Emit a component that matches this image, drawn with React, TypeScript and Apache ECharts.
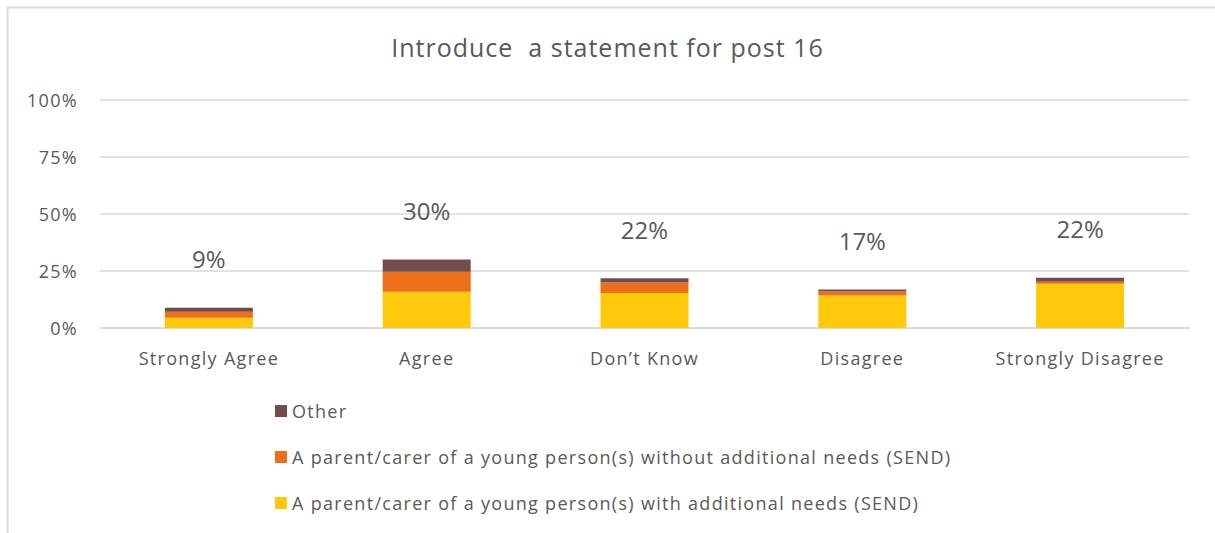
import React, { useEffect, useRef } from "react";
import * as echarts from "echarts";

const categories = ["Strongly Agree", "Agree", "Don\u2019t Know", "Disagree", "Strongly Disagree"];
const withNeeds = [4.5, 15.9, 15.4, 14.2, 19.4];
const withoutNeeds = [2.6, 8.8, 4.6, 1.8, 0.9];
const other = [1.8, 5.3, 1.8, 0.9, 1.7];
const totalLabels = ["9%", "30%", "22%", "17%", "22%"];
const seriesNames = [
  "A parent/carer of a young person(s) with additional needs (SEND)",
  "A parent/carer of a young person(s) without additional needs (SEND)",
  "Other",
];
const yTicks = [0, 25, 50, 75, 100];

const FONT = "'Open Sans', Lato, sans-serif";
const TXT = "#595959";

const css = `
.chart-box svg text[style*="18px"] { letter-spacing: 1.3px; }
.chart-box svg text[style*="25px"] { letter-spacing: 1px; }
`;

export default function App() {
  const ref = useRef<HTMLDivElement>(null);
  useEffect(() => {
    if (!ref.current) return;
    const chart = echarts.init(ref.current, undefined, { renderer: "svg" });
    chart.setOption({
      animation: false,
      textStyle: { fontFamily: FONT, color: TXT },
      title: {
        text: "Introduce  a statement for post 16",
        left: "center",
        top: 29,
        textStyle: { fontFamily: FONT, fontSize: 25, fontWeight: "normal", color: TXT },
      },
      graphic: [
        {
          type: "rect",
          shape: { x: 7.5, y: 7.5, width: 1230, height: 560 },
          style: { fill: "none", stroke: "#d9d9d9", lineWidth: 2 },
          silent: true,
        },
      ],
      legend: {
        orient: "vertical",
        left: 270,
        top: 397,
        itemWidth: 12,
        itemHeight: 12,
        itemGap: 28,
        icon: "rect",
        data: [seriesNames[2], seriesNames[1], seriesNames[0]],
        textStyle: { fontFamily: FONT, fontSize: 18, color: TXT },
      },
      grid: { left: 100, right: 26, top: 100, bottom: 205, containLabel: false },
      xAxis: {
        type: "category",
        data: categories,
        axisLine: { show: true, lineStyle: { color: "#d9d9d9", width: 1.5 } },
        axisTick: { show: false },
        axisLabel: { fontFamily: FONT, fontSize: 18, color: TXT, margin: 21 },
      },
      yAxis: {
        type: "value",
        min: yTicks[0],
        max: yTicks[yTicks.length - 1],
        interval: 25,
        axisLine: { show: false },
        axisTick: { show: false },
        splitLine: { lineStyle: { color: "#d9d9d9", width: 1.5 } },
        axisLabel: { formatter: "{value}%", fontFamily: FONT, fontSize: 18, color: TXT, margin: 22 },
      },
      series: [
        {
          name: seriesNames[0],
          type: "bar",
          stack: "total",
          barWidth: 88,
          data: withNeeds,
          itemStyle: { color: "#FFC90B" },
        },
        {
          name: seriesNames[1],
          type: "bar",
          stack: "total",
          barWidth: 88,
          data: withoutNeeds,
          itemStyle: { color: "#EC7018" },
        },
        {
          name: seriesNames[2],
          type: "bar",
          stack: "total",
          barWidth: 88,
          data: other,
          itemStyle: { color: "#754C4C" },
          label: {
            show: true,
            position: "top",
            distance: 37,
            fontFamily: FONT,
            fontSize: 24,
            color: TXT,
            formatter: (p: any) => totalLabels[p.dataIndex],
          },
        },
      ],
    });
    return () => chart.dispose();
  }, []);
  return (
    <>
      <style>{css}</style>
      <div
        ref={ref}
        className="chart-box"
        style={{ position: "absolute", left: 0, top: 0, width: 1215, height: 533, background: "#fff" }}
      />
    </>
  );
}
